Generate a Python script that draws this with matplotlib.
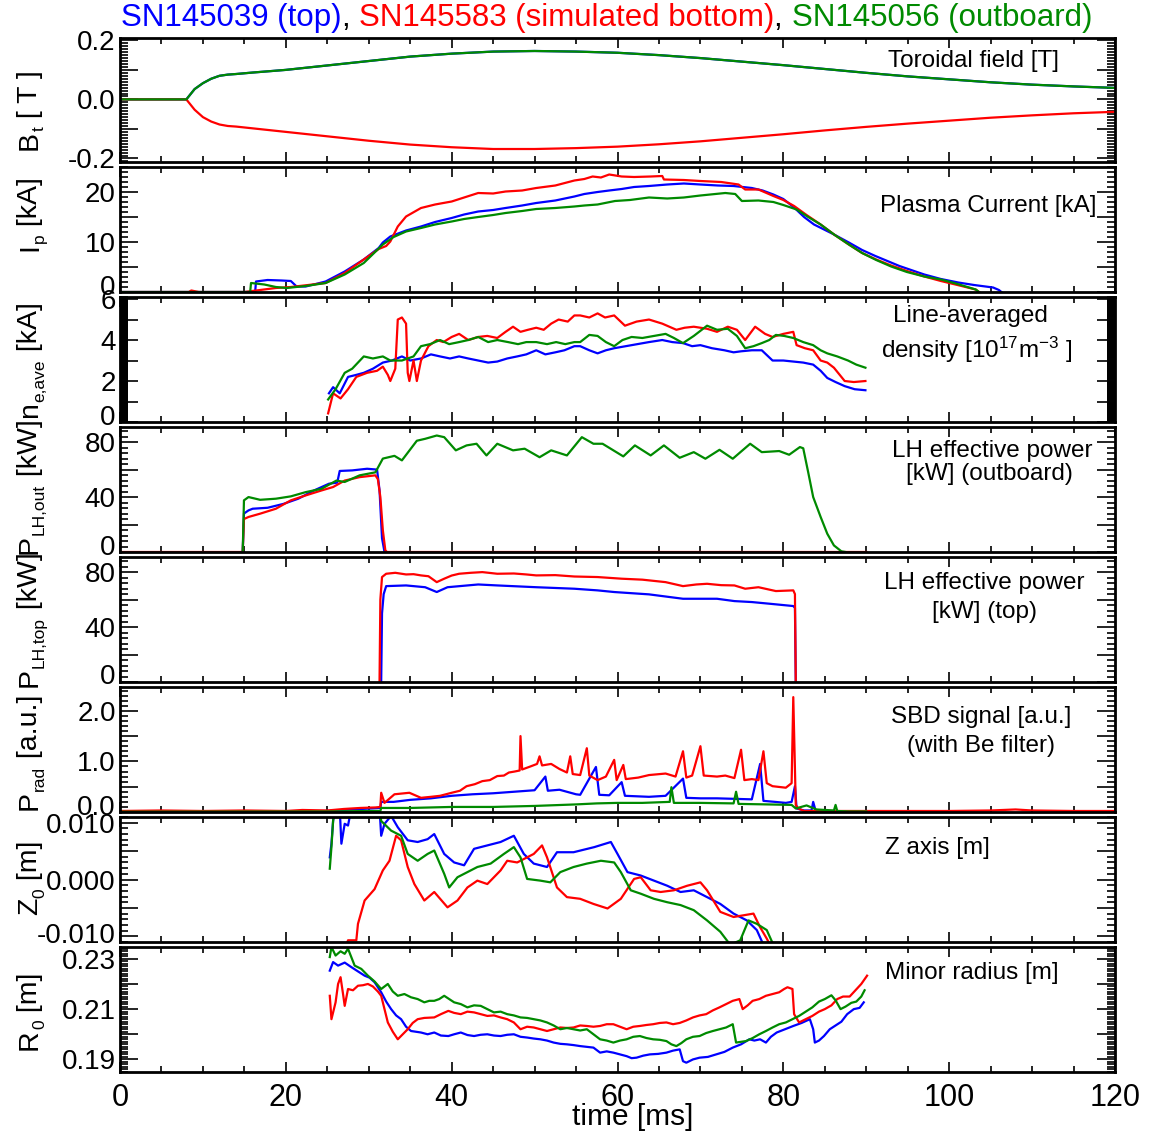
import numpy as np
import matplotlib
matplotlib.use('Agg')
import matplotlib.pyplot as plt
from matplotlib.ticker import MultipleLocator
from matplotlib.transforms import ScaledTranslation

plt.rcParams['font.family'] = ['Liberation Sans', 'DejaVu Sans']
plt.rcParams['mathtext.fontset'] = 'custom'
plt.rcParams['mathtext.rm'] = 'Liberation Sans'
plt.rcParams['mathtext.it'] = 'Liberation Sans:italic'
plt.rcParams['mathtext.bf'] = 'Liberation Sans:bold'
plt.rcParams['mathtext.default'] = 'regular'

BLUE = '#0000ff'
RED = '#ff0000'
GREEN = '#008a00'

# ---------------- data (time [ms], value) ----------------
bt_green = [(0, 0), (8, 0), (9, 0.035), (10, 0.055), (11, 0.07), (12, 0.08), (13, 0.084), (14, 0.086),
            (16, 0.091), (20, 0.10), (25, 0.115), (30, 0.13), (35, 0.145), (40, 0.155), (45, 0.162),
            (50, 0.164), (55, 0.162), (60, 0.158), (65, 0.15), (70, 0.14), (75, 0.128), (80, 0.116),
            (85, 0.103), (90, 0.09), (95, 0.078), (100, 0.068), (105, 0.058), (110, 0.05), (115, 0.044),
            (120, 0.039)]
bt_red = [(0, 0), (8, 0), (9, -0.035), (10, -0.06), (11, -0.075), (12, -0.085), (13, -0.09), (14, -0.092),
          (16, -0.098), (20, -0.11), (25, -0.125), (30, -0.14), (35, -0.153), (40, -0.162), (45, -0.168),
          (50, -0.168), (55, -0.165), (60, -0.16), (65, -0.152), (70, -0.142), (75, -0.13), (80, -0.118),
          (85, -0.105), (90, -0.093), (95, -0.082), (100, -0.072), (105, -0.062), (110, -0.054),
          (115, -0.047), (120, -0.042)]

ip_blue = [(0, 0), (16.3, 0), (16.4, 2.1), (17.8, 2.4), (19.5, 2.3), (20.6, 2.2), (21.3, 1.1), (22.4, 1.1),
           (24.8, 2.1), (27.1, 4.1), (29.4, 6.5), (31.2, 8.8), (31.7, 9.9), (32.6, 11.1), (34.5, 12.3),
           (36.3, 13.1), (38.0, 14.0), (40.0, 14.8), (41.5, 15.5), (43.2, 16.1), (45.0, 16.4), (46.5, 16.8),
           (48.5, 17.3), (50.2, 17.8), (52.5, 18.3), (54.8, 19.1), (56.0, 19.6), (57.6, 20.0), (59.0, 20.3),
           (60.5, 20.6), (62.0, 21.0), (63.8, 21.2), (66.0, 21.5), (68.0, 21.7), (70.0, 21.5), (72.1, 21.3),
           (74.0, 21.2), (76.2, 20.8), (77.5, 20.3), (78.8, 19.5), (80.0, 18.6), (81.3, 16.9), (82.5, 15.0),
           (83.7, 13.5), (86.0, 11.6), (87.9, 9.9), (89.5, 8.4), (91.1, 7.2), (94.0, 5.2), (97.0, 3.5),
           (99.0, 2.6), (101.1, 1.9), (103.0, 1.4), (105.3, 0.9), (106.0, 0.4), (106.3, 0)]
ip_red = [(0, 0), (8.3, 0), (8.6, 0.3), (9.5, 0), (15.0, 0), (18.8, 0.8), (20.6, 1.0), (24.8, 1.8),
          (27.1, 3.8), (29.4, 6.5), (31.2, 8.6), (32.1, 9.2), (32.6, 10.1), (33.5, 13.1), (34.5, 15.1),
          (36.3, 16.8), (38.0, 17.5), (40.0, 18.1), (41.5, 18.9), (43.2, 19.8), (45.0, 19.7), (46.5, 20.1),
          (48.5, 20.3), (50.2, 20.8), (52.5, 21.3), (54.8, 22.3), (56.0, 22.6), (57.0, 23.1), (58.0, 22.9),
          (59.0, 23.5), (60.5, 23.1), (62.0, 23.0), (64.0, 23.1), (65.4, 23.2), (65.6, 22.5), (68.0, 22.4),
          (70.0, 22.2), (72.5, 22.0), (74.6, 21.5), (75.4, 20.5), (77.0, 20.5), (78.8, 19.2), (80.0, 18.4),
          (81.3, 17.2), (82.8, 15.4), (84.5, 13.5), (86.2, 11.4), (87.9, 9.5), (89.5, 7.8), (91.2, 6.5),
          (93.0, 5.3), (94.9, 4.2), (97.0, 3.1), (99.0, 2.2), (101.0, 1.4), (103.2, 0.5), (103.6, 0)]
ip_green = [(0, 0), (15.7, 0), (15.8, 1.8), (17.4, 1.5), (18.8, 1.0), (20.1, 0.8), (22.4, 1.2), (24.8, 1.8),
            (27.1, 3.5), (29.4, 5.8), (31.7, 9.5), (33.0, 11.0), (34.5, 12.1), (36.3, 12.8), (38.0, 13.5),
            (40.0, 14.1), (41.5, 14.6), (43.2, 15.0), (45.0, 15.4), (46.5, 15.8), (48.5, 16.2), (50.2, 16.6),
            (52.5, 16.8), (54.8, 17.1), (56.0, 17.3), (57.6, 17.5), (59.7, 18.2), (61.5, 18.4), (63.8, 18.9),
            (66.0, 18.7), (68.0, 18.9), (70.0, 19.3), (73.0, 19.8), (74.2, 19.6), (75.0, 18.2), (77.0, 18.3),
            (78.8, 18.0), (80.0, 17.4), (81.6, 16.5), (83.0, 15.0), (84.5, 13.5), (86.2, 11.4), (87.9, 9.5),
            (89.5, 7.8), (91.2, 6.4), (93.0, 5.1), (94.9, 4.0), (97.0, 3.1), (99.0, 2.5), (101.0, 1.6),
            (103.2, 0.5), (103.6, 0)]

ne_blue = [(25.2, 1.4), (25.7, 1.7), (26.5, 1.4), (27.5, 2.2), (28.5, 2.3), (29.4, 2.4), (30.5, 2.6),
           (31.7, 2.9), (32.8, 3.0), (34.0, 3.2), (35.0, 3.0), (36.3, 3.1), (37.5, 3.3), (38.6, 3.2),
           (39.8, 3.1), (40.9, 3.2), (42.0, 3.1), (43.2, 3.0), (44.4, 2.9), (45.5, 2.95), (46.7, 3.1),
           (47.9, 3.2), (49.0, 3.3), (50.2, 3.5), (51.3, 3.3), (52.5, 3.4), (53.6, 3.5), (54.8, 3.7),
           (55.5, 3.7), (56.6, 3.5), (57.6, 3.35), (58.6, 3.5), (59.6, 3.6), (61.0, 3.7), (62.4, 3.8),
           (63.8, 3.9), (65.4, 4.0), (66.6, 3.9), (67.9, 3.85), (69.0, 3.7), (70.0, 3.75), (71.4, 3.6),
           (72.9, 3.5), (74.0, 3.4), (74.9, 3.45), (76.2, 3.5), (77.4, 3.5), (78.7, 3.0), (80.0, 3.0),
           (81.2, 2.95), (82.4, 2.9), (83.6, 2.8), (84.5, 2.5), (85.3, 2.15), (86.3, 1.95), (87.4, 1.75),
           (88.6, 1.6), (89.9, 1.55)]
ne_red = [(25.1, 0.42), (25.7, 1.4), (26.6, 1.15), (27.5, 1.6), (28.5, 2.2), (29.8, 2.4), (31.0, 2.5),
          (31.7, 2.7), (32.3, 2.3), (32.6, 2.0), (33.2, 2.6), (33.5, 5.0), (34.0, 5.1), (34.5, 4.8),
          (34.7, 2.4), (34.9, 2.0), (35.4, 3.0), (35.8, 2.0), (36.3, 3.0), (37.2, 3.7), (38.2, 4.0),
          (39.0, 3.9), (40.0, 4.15), (40.9, 4.3), (42.0, 4.0), (43.2, 4.15), (44.3, 4.2), (45.5, 4.1),
          (46.5, 4.4), (47.4, 4.65), (48.3, 4.4), (49.2, 4.5), (50.2, 4.6), (51.1, 4.5), (52.0, 4.8),
          (52.9, 5.0), (54.0, 4.9), (54.8, 5.2), (55.5, 5.2), (56.6, 5.1), (57.6, 5.3), (58.5, 5.1),
          (59.6, 5.2), (60.9, 4.7), (62.3, 4.9), (63.8, 5.0), (65.4, 4.8), (67.1, 4.5), (68.1, 4.6),
          (69.2, 4.65), (70.8, 4.55), (72.0, 4.4), (73.3, 4.65), (74.4, 4.5), (75.4, 4.0), (76.6, 4.65),
          (77.8, 4.3), (78.7, 4.15), (80.0, 4.3), (81.2, 4.4), (81.6, 3.75), (82.6, 3.6), (83.6, 3.5),
          (84.5, 3.0), (85.3, 2.9), (86.1, 2.65), (86.8, 2.3), (87.4, 2.0), (88.5, 1.95), (89.9, 2.0)]
ne_green = [(25.1, 1.1), (26.0, 1.6), (27.1, 2.4), (28.0, 2.6), (28.7, 2.9), (29.4, 3.2), (30.5, 3.1),
            (31.7, 3.2), (32.6, 3.0), (34.0, 3.0), (35.4, 3.2), (36.3, 3.7), (37.4, 3.8), (38.6, 4.0),
            (39.7, 3.8), (40.9, 3.9), (42.0, 4.0), (43.2, 4.15), (44.4, 3.9), (45.5, 4.0), (46.8, 3.9),
            (48.0, 3.8), (49.0, 3.9), (50.2, 3.9), (51.5, 3.8), (52.6, 3.9), (53.7, 3.8), (54.8, 3.9),
            (55.5, 3.9), (56.6, 4.25), (57.6, 4.2), (58.6, 3.9), (59.6, 3.7), (60.6, 4.0), (61.7, 4.15),
            (63.0, 4.1), (64.4, 4.2), (65.8, 4.3), (66.8, 4.1), (67.9, 3.85), (69.2, 4.2), (70.8, 4.7),
            (72.0, 4.5), (73.3, 4.55), (74.4, 4.2), (75.4, 3.6), (76.4, 3.7), (77.4, 3.85), (78.3, 4.0),
            (79.1, 4.25), (80.1, 4.2), (81.2, 4.1), (82.4, 3.9), (83.6, 3.75), (84.5, 3.5), (85.3, 3.35),
            (86.5, 3.2), (87.8, 3.0), (88.8, 2.8), (89.9, 2.65)]

plh_out_blue = [(14.8, 0), (14.95, 28), (15.5, 30.3), (16.0, 31.5), (17.8, 32.2), (19.7, 35), (21.5, 38.8),
                (23.4, 44.8), (25.2, 49.7), (26.2, 50.5), (26.5, 59), (28.0, 59.4), (29.8, 60.6), (31.0, 60),
                (31.3, 45), (31.6, 10), (31.9, 0)]
plh_out_red = [(0, 0), (14.8, 0), (14.95, 24), (15.5, 25.5), (16.9, 27.9), (18.8, 31.5), (20.6, 37.6),
               (22.4, 41.2), (24.3, 44.8), (25.7, 47.3), (27.1, 52), (28.9, 54.5), (30.8, 55.8), (31.1, 53),
               (31.4, 40), (31.7, 15.8), (32.0, 1.2), (32.2, 0), (90, 0)]
plh_out_green = [(14.8, 0), (14.95, 37.6), (15.5, 40), (16.9, 38), (18.8, 38.8), (20.6, 40.5), (22.4, 43.6),
                 (24.3, 46), (26.1, 52), (27.1, 51), (28.9, 55.8), (30.8, 58), (31.7, 68), (33.1, 70),
                 (34.0, 66.7), (35.8, 81), (36.8, 82.4), (38.2, 84.8), (39.1, 83.6), (40.5, 74), (41.8, 77.6),
                 (43.0, 78.8), (44.2, 70.3), (45.5, 78.8), (47.4, 74), (48.8, 75.2), (50.6, 69), (52.0, 74),
                 (53.9, 70.3), (55.7, 83.6), (57.1, 78.8), (58.2, 78.8), (60.7, 69.6), (62.1, 77.6),
                 (64.0, 70.3), (65.6, 77.6), (67.5, 68.6), (69.2, 72.7), (70.6, 67.9), (72.3, 74.4),
                 (73.9, 67.9), (76.0, 78.8), (77.4, 72.7), (79.5, 73.5), (80.7, 70.8), (82.0, 76.4),
                 (82.4, 75.5), (83.0, 58), (83.6, 40), (84.5, 25.5), (85.3, 13.3), (86.1, 4.8), (87.0, 0.5),
                 (87.5, 0)]

plh_top_blue = [(31.5, 0), (31.6, 50), (31.8, 64), (32.1, 69.8), (34.5, 70.3), (36.8, 69), (38.2, 65.5),
                (39.5, 69), (43.2, 71), (45.5, 70.3), (50.2, 69), (54.8, 67.9), (57.6, 66.7), (59.6, 65.5),
                (63.8, 63.8), (67.9, 60.6), (72.0, 60.6), (74.1, 58.9), (76.2, 58.2), (78.3, 57),
                (81.2, 55.3), (81.4, 54), (81.5, 0)]
plh_top_red = [(31.3, 0), (31.4, 60), (31.6, 76.4), (32.1, 78.8), (33.2, 79.5), (34.5, 78.3), (35.4, 78.5),
               (36.3, 77.6), (37.2, 77), (38.2, 72.7), (39.1, 75.2), (40.0, 77.5), (40.9, 78.8), (42.3, 79.5),
               (43.7, 80), (45.5, 78.8), (47.5, 79), (49.0, 78.3), (50.2, 77.6), (52.5, 77.8), (54.8, 76.8),
               (57.6, 76.4), (60.5, 75.2), (63.0, 74.5), (65.8, 72.7), (67.9, 69.8), (69.5, 71), (70.8, 71.5),
               (72.5, 70.5), (74.1, 70.3), (75.4, 67.9), (77.0, 69), (79.1, 66.2), (81.2, 66.7), (81.4, 64),
               (81.5, 0)]

prad_blue = [(0, 0.01), (20, 0.01), (25, 0.02), (28, 0.05), (31.4, 0.08), (31.5, 0.2), (33, 0.2), (35, 0.24),
             (37.5, 0.27), (40, 0.32), (42.5, 0.35), (45, 0.37), (47.5, 0.4), (50, 0.43), (51.3, 0.7),
             (51.6, 0.42), (53, 0.44), (55, 0.35), (55.5, 0.34), (57.4, 0.89), (57.8, 0.34), (59, 0.33),
             (60.5, 0.59), (60.9, 0.32), (63.8, 0.3), (65.8, 0.32), (67.9, 0.66), (68.3, 0.28), (70, 0.27),
             (72, 0.27), (74.1, 0.26), (76.2, 0.25), (77.2, 0.95), (77.6, 0.22), (79, 0.2), (80.3, 0.18),
             (81.0, 0.2), (81.4, 0.51), (81.6, 0.07), (82.5, 0.03), (83.4, 0.03), (83.6, 0.2), (83.9, 0.02),
             (90, 0.01)]
prad_red = [(0, 0.02), (5, 0.03), (10, 0.02), (15, 0.03), (20, 0.02), (22, 0.04), (25, 0.03), (27, 0.06),
            (29, 0.08), (30.8, 0.09), (31.4, 0.1), (31.5, 0.38), (31.9, 0.18), (33.1, 0.35), (34.9, 0.38),
            (36.3, 0.28), (37.5, 0.3), (38.6, 0.32), (40.0, 0.38), (41.0, 0.42), (41.8, 0.51), (42.8, 0.55),
            (43.7, 0.61), (44.6, 0.63), (45.5, 0.71), (46.3, 0.72), (46.9, 0.78), (47.6, 0.8), (48.2, 0.82),
            (48.3, 1.5), (48.5, 0.84), (49.5, 0.9), (50.3, 0.95), (50.6, 1.1), (50.9, 0.92), (52.0, 0.95),
            (53.0, 0.85), (53.9, 0.78), (54.3, 1.1), (54.6, 0.75), (55.5, 0.73), (56.3, 1.26), (56.6, 0.72),
            (57.6, 0.63), (58.6, 0.7), (59.6, 1.03), (59.9, 0.63), (60.7, 0.93), (61.0, 0.65), (62.5, 0.68),
            (63.8, 0.73), (65.8, 0.76), (67.0, 0.7), (67.9, 1.2), (68.3, 0.68), (69.0, 0.72), (70.0, 1.3),
            (70.4, 0.72), (72.0, 0.7), (73.0, 0.72), (74.1, 0.67), (74.9, 1.23), (75.3, 0.63), (76.2, 0.65),
            (77.0, 0.63), (77.6, 1.2), (78.0, 0.57), (78.7, 0.51), (80.3, 0.48), (81.0, 0.57), (81.2, 2.27),
            (81.5, 0.14), (81.8, 0.07), (82.5, 0.02), (90, 0.02), (100, 0.02), (105, 0.03), (108, 0.05),
            (110, 0.03), (115, 0.02), (120, 0.02)]
prad_green = [(0, 0.005), (25, 0.01), (30, 0.02), (31.4, 0.02), (31.5, 0.08), (35, 0.08), (40, 0.1),
              (45, 0.1), (50, 0.12), (55, 0.15), (57.5, 0.17), (60, 0.18), (63, 0.18), (66.3, 0.2),
              (66.5, 0.49), (66.8, 0.18), (70, 0.18), (74, 0.17), (74.3, 0.4), (74.6, 0.16), (78, 0.15),
              (81.0, 0.14), (81.5, 0.07), (82.8, 0.13), (84, 0.05), (86.1, 0.03), (86.3, 0.14), (86.5, 0.02),
              (88, 0.01), (90, 0.01)]

z_blue = [(25.3, 0.0039), (25.5, 0.0063), (25.7, 0.0103), (25.9, 0.0125), (26.5, 0.0125), (26.7, 0.0063),
          (27.1, 0.0098), (27.5, 0.0095), (27.9, 0.0125), (31.3, 0.0125), (31.5, 0.0077), (31.9, 0.0098),
          (32.7, 0.0112), (33.5, 0.0092), (34.7, 0.0069), (35.9, 0.0066), (37.1, 0.0071), (37.9, 0.0080),
          (39.1, 0.0045), (40.3, 0.0030), (41.5, 0.0025), (42.7, 0.0054), (44.3, 0.0060), (45.9, 0.0066),
          (47.5, 0.0077), (48.7, 0.0045), (49.9, 0.0028), (51.5, 0.0022), (52.7, 0.0048), (54.7, 0.0048),
          (57.2, 0.0057), (59.2, 0.0066), (60.0, 0.0045), (61.2, 0.0013), (62.8, 0.0007), (64.4, -0.0002),
          (66.0, -0.0011), (67.6, -0.0022), (69.2, -0.0019), (70.8, -0.0031), (72.4, -0.0043),
          (74.0, -0.0060), (75.6, -0.0072), (76.8, -0.0089), (77.6, -0.0115)]
z_red = [(27.3, -0.0115), (27.5, -0.0107), (28.5, -0.0107), (28.7, -0.0078), (29.5, -0.0037),
         (30.7, -0.0017), (31.7, 0.0016), (32.5, 0.0033), (33.3, 0.0077), (33.9, 0.0069), (34.7, 0.0022),
         (35.5, -0.0008), (36.7, -0.0037), (37.9, -0.0022), (39.5, -0.0049), (40.7, -0.0037),
         (41.9, -0.0014), (43.1, -0.0002), (44.3, -0.0008), (45.9, 0.0016), (46.7, 0.0033), (47.9, 0.0030),
         (49.1, 0.0039), (49.9, 0.0045), (50.9, 0.0060), (51.5, 0.0039), (52.7, -0.0014), (53.9, -0.0031),
         (55.5, -0.0034), (57.1, -0.0043), (58.8, -0.0051), (60.4, -0.0034), (62.0, 0.0001), (62.8, 0.0004),
         (64.0, -0.0019), (65.2, -0.0022), (66.8, -0.0019), (68.4, -0.0011), (70.0, -0.0005),
         (70.8, -0.0019), (72.4, -0.0057), (74.0, -0.0066), (76.4, -0.0060), (77.2, -0.0084),
         (78.0, -0.0104), (78.4, -0.0115)]
z_green = [(25.3, 0.0019), (25.5, 0.0057), (25.7, 0.0103), (25.9, 0.0125), (31.3, 0.0125), (31.5, 0.0103),
           (32.7, 0.0086), (33.9, 0.0077), (34.7, 0.0045), (35.9, 0.0033), (37.1, 0.0045), (37.9, 0.0051),
           (39.1, 0.0010), (39.7, -0.0014), (40.7, 0.0004), (41.9, 0.0013), (43.1, 0.0022), (44.7, 0.0028),
           (46.3, 0.0045), (47.5, 0.0057), (48.3, 0.0039), (49.1, 0.0001), (50.7, -0.0002), (51.9, -0.0005),
           (53.1, 0.0013), (54.7, 0.0022), (56.3, 0.0028), (58.0, 0.0033), (59.6, 0.0030), (60.4, 0.0013),
           (61.6, -0.0019), (62.8, -0.0025), (64.4, -0.0034), (66.0, -0.0040), (67.6, -0.0045),
           (69.2, -0.0054), (70.8, -0.0072), (72.4, -0.0092), (73.6, -0.0115), (74.8, -0.0107),
           (75.8, -0.0072), (76.8, -0.0078), (78.0, -0.0089), (78.8, -0.0115)]

r_blue = [(25.3, 0.2253), (25.7, 0.2287), (26.3, 0.2273), (27.1, 0.2285), (27.9, 0.2267), (28.7, 0.2250),
          (29.5, 0.2233), (30.1, 0.2225), (30.7, 0.2207), (31.5, 0.2167), (32.1, 0.2130), (32.7, 0.2100),
          (33.3, 0.2075), (33.9, 0.2060), (34.5, 0.2030), (35.1, 0.2013), (35.7, 0.2010), (36.3, 0.2007),
          (37.1, 0.2000), (37.9, 0.2007), (38.7, 0.1995), (39.6, 0.1993), (40.3, 0.2000), (41.1, 0.2007),
          (41.9, 0.1997), (42.7, 0.1993), (43.5, 0.1998), (44.3, 0.2000), (45.1, 0.1995), (45.9, 0.1993),
          (46.7, 0.1998), (47.5, 0.2000), (48.3, 0.1990), (49.1, 0.1987), (49.9, 0.1983), (50.7, 0.1980),
          (51.5, 0.1975), (52.3, 0.1967), (53.1, 0.1962), (53.9, 0.1960), (54.7, 0.1957), (55.5, 0.1953),
          (56.3, 0.1950), (57.1, 0.1947), (57.9, 0.1927), (58.7, 0.1932), (59.5, 0.1927), (60.3, 0.1920),
          (61.1, 0.1913), (61.7, 0.1905), (62.3, 0.1907), (63.1, 0.1915), (63.9, 0.1920), (64.9, 0.1922),
          (65.9, 0.1927), (66.7, 0.1935), (67.5, 0.1940), (67.9, 0.1893), (68.3, 0.1887), (69.1, 0.1900),
          (69.9, 0.1907), (70.9, 0.1910), (71.9, 0.1920), (72.9, 0.1930), (73.9, 0.1947), (74.9, 0.1960),
          (75.9, 0.1980), (76.5, 0.1975), (77.2, 0.1980), (77.9, 0.1967), (78.5, 0.1990), (79.2, 0.2007),
          (80.2, 0.2020), (81.2, 0.2033), (82.2, 0.2045), (83.2, 0.2060), (83.6, 0.2020), (83.8, 0.1967),
          (84.3, 0.1975), (84.9, 0.1993), (85.6, 0.2020), (86.3, 0.2035), (87.0, 0.2050), (87.7, 0.2080),
          (88.5, 0.2100), (89.2, 0.2105), (89.7, 0.2127)]
r_red = [(25.3, 0.2153), (25.5, 0.2060), (25.8, 0.2100), (26.0, 0.2127), (26.3, 0.2200), (26.6, 0.2227),
         (26.9, 0.2160), (27.1, 0.2113), (27.5, 0.2180), (28.1, 0.2175), (28.7, 0.2193), (29.3, 0.2195),
         (29.9, 0.2200), (30.5, 0.2190), (31.1, 0.2170), (31.5, 0.2153), (31.9, 0.2100), (32.3, 0.2047),
         (32.9, 0.2010), (33.5, 0.1980), (34.1, 0.2000), (34.7, 0.2020), (35.3, 0.2045), (35.9, 0.2060),
         (36.7, 0.2065), (37.9, 0.2067), (38.7, 0.2080), (39.6, 0.2093), (40.3, 0.2085), (41.1, 0.2080),
         (41.9, 0.2090), (42.7, 0.2087), (43.5, 0.2080), (44.3, 0.2073), (45.1, 0.2075), (45.9, 0.2067),
         (46.7, 0.2060), (47.5, 0.2047), (48.3, 0.2020), (49.1, 0.2030), (49.9, 0.2027), (50.7, 0.2020),
         (51.5, 0.2013), (52.3, 0.2020), (53.1, 0.2027), (53.9, 0.2025), (54.7, 0.2027), (55.5, 0.2035),
         (56.3, 0.2033), (57.1, 0.2030), (57.9, 0.2033), (58.7, 0.2040), (59.5, 0.2040), (60.3, 0.2030),
         (61.1, 0.2020), (61.9, 0.2030), (62.7, 0.2033), (63.5, 0.2037), (64.3, 0.2040), (65.1, 0.2045),
         (65.9, 0.2047), (66.7, 0.2040), (67.5, 0.2045), (68.3, 0.2055), (69.1, 0.2067), (69.9, 0.2075),
         (70.7, 0.2080), (71.5, 0.2095), (72.3, 0.2107), (73.1, 0.2120), (73.9, 0.2133), (74.7, 0.2140),
         (75.1, 0.2100), (75.7, 0.2115), (76.3, 0.2133), (77.1, 0.2140), (77.9, 0.2153), (78.7, 0.2160),
         (79.5, 0.2167), (80.1, 0.2180), (80.5, 0.2187), (81.1, 0.2180), (81.3, 0.2080), (81.9, 0.2047),
         (82.7, 0.2060), (83.5, 0.2073), (84.3, 0.2090), (85.0, 0.2100), (85.8, 0.2115), (86.5, 0.2140),
         (87.2, 0.2150), (88.0, 0.2150), (88.7, 0.2175), (89.4, 0.2200), (90.1, 0.2233)]
r_green = [(25.3, 0.2307), (25.5, 0.2347), (26.0, 0.2313), (26.6, 0.2330), (27.1, 0.2320), (27.5, 0.2340),
           (28.3, 0.2273), (29.1, 0.2260), (29.9, 0.2233), (30.7, 0.2210), (31.5, 0.2180), (32.3, 0.2200),
           (32.9, 0.2170), (33.5, 0.2153), (34.3, 0.2160), (35.1, 0.2147), (35.9, 0.2140), (36.7, 0.2127),
           (37.3, 0.2133), (37.9, 0.2133), (38.5, 0.2140), (39.1, 0.2153), (39.7, 0.2140), (40.3, 0.2127),
           (41.1, 0.2120), (41.9, 0.2107), (42.7, 0.2115), (43.5, 0.2113), (44.3, 0.2100), (45.1, 0.2087),
           (45.9, 0.2090), (46.7, 0.2080), (47.5, 0.2075), (48.3, 0.2067), (49.1, 0.2065), (49.9, 0.2060),
           (50.7, 0.2055), (51.5, 0.2047), (52.3, 0.2035), (53.1, 0.2020), (53.9, 0.2025), (54.7, 0.2020),
           (55.5, 0.2015), (56.3, 0.2020), (57.1, 0.2000), (57.9, 0.1980), (58.7, 0.1975), (59.5, 0.1967),
           (60.3, 0.1975), (61.1, 0.1980), (61.9, 0.1990), (62.7, 0.1993), (63.5, 0.1985), (64.3, 0.1980),
           (65.1, 0.1978), (65.9, 0.1973), (66.5, 0.1960), (67.1, 0.1953), (67.7, 0.1965), (68.3, 0.1980),
           (69.1, 0.1990), (69.9, 0.1993), (70.7, 0.2005), (71.5, 0.2013), (72.3, 0.2020), (73.1, 0.2027),
           (73.9, 0.2040), (74.3, 0.1967), (74.9, 0.1970), (75.5, 0.1973), (76.3, 0.1985), (77.1, 0.2000),
           (77.9, 0.2013), (78.7, 0.2027), (79.5, 0.2040), (80.3, 0.2047), (81.1, 0.2060), (81.9, 0.2073),
           (82.7, 0.2090), (83.5, 0.2107), (84.3, 0.2130), (85.0, 0.2140), (85.8, 0.2155), (86.3, 0.2135),
           (86.9, 0.2100), (87.5, 0.2110), (88.2, 0.2125), (88.8, 0.2130), (89.4, 0.2150), (89.8, 0.2175)]

x_ticks = [0, 20, 40, 60, 80, 100, 120]
title_parts = ["SN145039 (top)", ", ", "SN145583 (simulated bottom)", ", ", "SN145056 (outboard)"]

# ---------------- figure ----------------
W, H = 1153, 1134
fig = plt.figure(figsize=(W / 100, H / 100), dpi=100)
fig.canvas.draw()
renderer = fig.canvas.get_renderer()


def fx(px):
    return px / W


def fy(py):
    return 1 - py / H


def text_width(s, fs):
    bar = fig.text(0, 0, '|', fontsize=fs)
    wb = bar.get_window_extent(renderer).width
    bar.remove()
    tt = fig.text(0, 0, s + '|', fontsize=fs)
    w = tt.get_window_extent(renderer).width - wb
    tt.remove()
    return w


def vlabel(xbase, ycen, pieces):
    """Rotated label built from pieces (text, fontsize, shift to the right in px)."""
    widths = [text_width(s, f) for s, f, _ in pieces]
    y = ycen + sum(widths) / 2
    for (s, f, sh), w in zip(pieces, widths):
        fig.text(fx(xbase + sh), fy(y), s, rotation=90, rotation_mode='anchor',
                 ha='left', va='baseline', fontsize=f)
        y -= w


left_px, right_px = 120, 1115
panel_px = [(38, 162), (167, 292), (297, 422), (427, 552), (557, 682), (687, 812), (817, 942), (947, 1072)]

MS, SS, SH = 20.5, 12.5, 7
panels = [
    dict(series=[(bt_green, BLUE), (bt_red, RED), (bt_green, GREEN)], ylim=(-0.212, 0.208),
         major=[-0.2, -0.1, 0, 0.1, 0.2], labels=['-0.2', '', '0.0', '', '0.2'], minor=0.01, zero_up=0,
         ylabel=[('B', MS, 0), ('t', SS, SH), (' [ T ]', MS, 0)], ylab_y=110),
    dict(series=[(ip_blue, BLUE), (ip_red, RED), (ip_green, GREEN)], ylim=(0, 25),
         major=[0, 5, 10, 15, 20], labels=['0', '', '10', '', '20'], minor=1, zero_up=7,
         ylabel=[('I', MS, 0), ('p', SS, SH), (' [kA]', MS, 0)], ylab_y=214),
    dict(series=[(ne_blue, BLUE), (ne_red, RED), (ne_green, GREEN)], ylim=(0, 6.1),
         major=[0, 1, 2, 3, 4, 5, 6], labels=['0', '', '2', '', '4', '', '6'], minor=0.025, zero_up=7,
         ylabel=[('n', MS, 0), ('e,ave', SS, SH), (' [kA]', MS, 0)], ylab_y=360),
    dict(series=[(plh_out_blue, BLUE), (plh_out_red, RED), (plh_out_green, GREEN)], ylim=(0, 91),
         major=[0, 20, 40, 60, 80], labels=['0', '', '40', '', '80'], minor=4, zero_up=7,
         ylabel=[('P', MS, 0), ('LH,out', SS, SH), (' [kW]', MS, 0)], ylab_y=487),
    dict(series=[(plh_top_blue, BLUE), (plh_top_red, RED)], ylim=(0, 91),
         major=[0, 20, 40, 60, 80], labels=['0', '', '40', '', '80'], minor=4, zero_up=8,
         ylabel=[('P', MS, 0), ('LH,top', SS, SH), (' [kW]', MS, 0)], ylab_y=620),
    dict(series=[(prad_blue, BLUE), (prad_red, RED), (prad_green, GREEN)], ylim=(0, 2.47),
         major=[0, 0.5, 1.0, 1.5, 2.0], labels=['0.0', '', '1.0', '', '2.0'], minor=0.1, zero_up=7,
         ylabel=[('P', MS, 0), ('rad', SS, SH), (' [a.u.]', MS, 0)], ylab_y=752),
    dict(series=[(z_blue, BLUE), (z_red, RED), (z_green, GREEN)], ylim=(-0.011, 0.011),
         major=[-0.01, -0.005, 0, 0.005, 0.01], labels=['-0.010', '', '0.000', '', '0.010'], minor=0.001,
         zero_up=3, ylabel=[('Z', MS, 0), ('0', SS, SH), (' [m]', MS, 0)], ylab_y=878),
    dict(series=[(r_blue, BLUE), (r_red, RED), (r_green, GREEN)], ylim=(0.185, 0.2347),
         major=[0.19, 0.20, 0.21, 0.22, 0.23], labels=['0.19', '', '0.21', '', '0.23'], minor=0.001,
         zero_up=0, ylabel=[('R', MS, 0), ('0', SS, SH), (' [m]', MS, 0)], ylab_y=1011),
]

annotations = [
    ('Toroidal field [T]', 1059, 61, 'right'),
    ('Plasma Current [kA]', 1097, 206, 'right'),
    ('Line-averaged', 970, 316, 'center'),
    (r'density [10$^{17}$m$^{-3}$ ]', 977, 350, 'center'),
    ('LH effective power', 1092, 451, 'right'),
    ('[kW] (outboard)', 989, 474, 'center'),
    ('LH effective power', 1085, 583, 'right'),
    ('[kW] (top)', 985, 612, 'center'),
    ('SBD signal [a.u.]', 1071, 717, 'right'),
    ('(with Be filter)', 981, 746, 'center'),
    ('Z axis [m]', 937, 848, 'center'),
    ('Minor radius [m]', 1059, 973, 'right'),
]

for i, (p, (top, bot)) in enumerate(zip(panels, panel_px)):
    ax = fig.add_axes([fx(left_px), fy(bot), fx(right_px) - fx(left_px), (bot - top) / H])
    for data, col in p['series']:
        t, v = zip(*data)
        ax.plot(t, v, color=col, lw=1.6, solid_joinstyle='round')
    ax.set_xlim(0, 120)
    ax.set_ylim(*p['ylim'])
    ax.set_yticks(p['major'])
    ax.set_yticklabels(p['labels'])
    ax.yaxis.set_minor_locator(MultipleLocator(p['minor']))
    ax.set_xticks(x_ticks)
    ax.xaxis.set_minor_locator(MultipleLocator(5))
    ax.tick_params(axis='both', which='both', direction='in', top=True, right=True, width=1.2)
    ax.tick_params(axis='y', which='major', length=13, labelsize=20, pad=3)
    ax.tick_params(axis='y', which='minor', length=6)
    ax.tick_params(axis='x', which='major', length=7, labelsize=22, pad=8)
    ax.tick_params(axis='x', which='minor', length=4)
    if i < 7:
        ax.set_xticklabels([])
    if p['zero_up']:
        lab = ax.get_yticklabels()[0]
        lab.set_transform(lab.get_transform() +
                          ScaledTranslation(0, p['zero_up'] / 100, fig.dpi_scale_trans))
    for s in ax.spines.values():
        s.set_linewidth(2.0)
    vlabel(37, p['ylab_y'], p['ylabel'])

for s, x, y, ha in annotations:
    fig.text(fx(x), fy(y), s, ha=ha, va='center', fontsize=17.5)

fig.text(fx(633), fy(1117), 'time [ms]', ha='center', va='center', fontsize=21.5)

# multi-coloured title
colors = [BLUE, 'black', RED, 'black', GREEN]
fs = 22.5
total = text_width(''.join(title_parts), fs)
x0 = 606.5 - total / 2
acc = ''
for part, col in zip(title_parts, colors):
    off = text_width(acc, fs) if acc else 0
    fig.text(fx(x0 + off), fy(18), part, color=col, fontsize=fs, ha='left', va='center')
    acc += part

fig.savefig('out.png', dpi=100)
